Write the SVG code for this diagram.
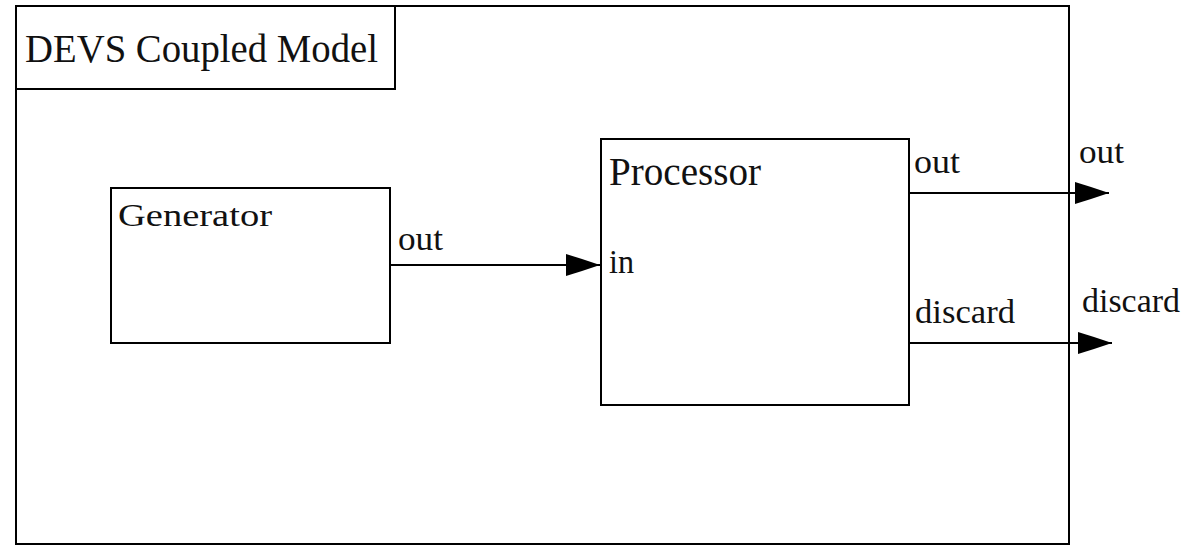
<svg xmlns="http://www.w3.org/2000/svg" width="1191" height="546" viewBox="0 0 1191 546">
  <style>
    .box { fill: none; stroke: #000; stroke-width: 2; }
    .conn { fill: none; stroke: #000; stroke-width: 2; }
    text { font-family: "Liberation Serif", "Times New Roman", serif; fill: #111; }
    .big { font-size: 40px; }
    .lbl { font-size: 34px; }
  </style>
  <defs>
    <marker id="arrow" viewBox="0 0 34 22" refX="34" refY="11" markerWidth="34" markerHeight="22" markerUnits="userSpaceOnUse" orient="auto">
      <path d="M0,0 L16,5 L34,11 L16,17 L0,22 Z" fill="#000"/>
    </marker>
  </defs>
  <rect width="1191" height="546" fill="#fff"/>

  <g id="coupled-model">
    <rect class="box" x="16" y="6" width="1053" height="538"/>
    <rect class="box" x="16" y="6" width="379" height="83"/>
    <text class="big" x="25" y="62" textLength="353" lengthAdjust="spacingAndGlyphs">DEVS Coupled Model</text>
    <text class="lbl" x="1079" y="163" textLength="45" lengthAdjust="spacingAndGlyphs">out</text>
    <text class="lbl" x="1082" y="312" textLength="98" lengthAdjust="spacingAndGlyphs">discard</text>
  </g>

  <g id="generator">
    <rect class="box" x="111" y="188" width="279" height="155"/>
    <text x="118" y="226" font-size="32" textLength="154" lengthAdjust="spacingAndGlyphs">Generator</text>
    <text class="lbl" x="398" y="250" textLength="45" lengthAdjust="spacingAndGlyphs">out</text>
  </g>

  <g id="processor">
    <rect class="box" x="601" y="139" width="308" height="266"/>
    <text class="big" x="609" y="185" textLength="152" lengthAdjust="spacingAndGlyphs">Processor</text>
    <text class="lbl" x="609" y="273" textLength="25" lengthAdjust="spacingAndGlyphs">in</text>
    <text class="lbl" x="914" y="173" textLength="46" lengthAdjust="spacingAndGlyphs">out</text>
    <text class="lbl" x="915" y="323" textLength="100" lengthAdjust="spacingAndGlyphs">discard</text>
  </g>

  <g id="connectors">
    <line class="conn" x1="390" y1="265" x2="600" y2="265" marker-end="url(#arrow)"/>
    <line class="conn" x1="909" y1="193" x2="1109" y2="193" marker-end="url(#arrow)"/>
    <line class="conn" x1="909" y1="343" x2="1112" y2="343" marker-end="url(#arrow)"/>
  </g>
</svg>
